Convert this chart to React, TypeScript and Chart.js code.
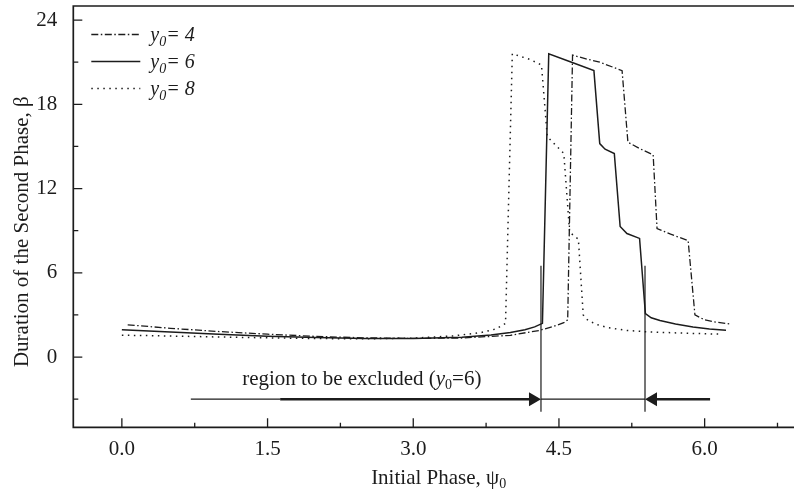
import React, { useEffect, useRef } from 'react';
import { Chart, registerables } from 'chart.js';

Chart.register(...registerables);

// ---- data ----
const psi4 = [0.06, 0.5, 1.0, 1.5, 2.0, 2.5, 3.0, 3.5, 4.0, 4.3, 4.45, 4.55, 4.59, 4.64, 4.8, 4.92, 5.15, 5.21, 5.33, 5.47, 5.51, 5.65, 5.83, 5.9, 6.0, 6.1, 6.27];
const beta4 = [2.3, 2.05, 1.82, 1.63, 1.47, 1.37, 1.33, 1.36, 1.55, 1.9, 2.2, 2.45, 2.65, 21.5, 21.2, 21.0, 20.4, 15.3, 14.85, 14.4, 9.15, 8.75, 8.3, 3.0, 2.65, 2.5, 2.35];

const psi6 = [0, 0.5, 1.0, 1.5, 2.0, 2.5, 3.0, 3.5, 3.8, 4.0, 4.15, 4.25, 4.33, 4.395, 4.63, 4.86, 4.92, 4.975, 5.07, 5.13, 5.2, 5.33, 5.39, 5.45, 5.54, 5.7, 5.88, 6.05, 6.22];
const beta6 = [1.95, 1.78, 1.62, 1.49, 1.39, 1.33, 1.33, 1.42, 1.58, 1.75, 1.95, 2.15, 2.4, 21.6, 21.0, 20.4, 15.2, 14.8, 14.5, 9.3, 8.8, 8.45, 3.1, 2.8, 2.6, 2.35, 2.15, 2.0, 1.91];

const psi8 = [0, 0.5, 1.0, 1.5, 2.0, 2.5, 3.0, 3.4, 3.7, 3.85, 3.95, 4.02, 4.2, 4.32, 4.38, 4.45, 4.55, 4.61, 4.66, 4.7, 4.75, 4.8, 4.9, 5.0, 5.2, 5.4, 5.8, 6.18];
const beta8 = [1.56, 1.5, 1.43, 1.37, 1.32, 1.3, 1.35, 1.5, 1.75, 2.0, 2.4, 21.6, 21.2, 20.8, 15.7, 15.2, 14.5, 8.9, 8.6, 8.4, 3.0, 2.6, 2.3, 2.1, 1.9, 1.8, 1.7, 1.63];

const seriesNames = ['4', '6', '8'];

const xTickValues = [0, 0.75, 1.5, 2.25, 3, 3.75, 4.5, 5.25, 6, 6.75];
const xMajorValues = [0, 1.5, 3, 4.5, 6];
const xMajorLabels = ['0.0', '1.5', '3.0', '4.5', '6.0'];
const yTickValues = [-3, 0, 3, 6, 9, 12, 15, 18, 21, 24];
const yMajorValues = [0, 6, 12, 18, 24];
const yMajorLabels = ['0', '6', '12', '18', '24'];

// excluded region annotation (data coordinates)
const excludeFrom = 4.315;
const excludeTo = 5.386;
const markerTop = 6.5;
const markerBottom = -3.9;
const arrowLevel = -3;
const arrowTailLeft = 0.71;
const arrowThickFrom = 1.63;
const arrowTailRight = 6.056;
const noteX = 2.47;
const noteY = -2.0;

const xTitle = 'Initial Phase, ψ';
const yTitle = 'Duration of the Second Phase, β';
const noteText = 'region to be excluded (';

// ---- styles ----
const INK = '#1c1c1c';
const SERIF = '"Liberation Serif", "Times New Roman", Times, serif';
const dashDot = [7, 2.5, 1.5, 2.5];
const dotted = [1.5, 4.5];

const pts = (xs: number[], ys: number[]) => xs.map((x, i) => ({ x, y: ys[i] }));
const near = (a: number, b: number) => Math.abs(a - b) < 1e-9;

type Part = { t: string; font: string; dy?: number };

function drawParts(ctx: CanvasRenderingContext2D, parts: Part[], x: number, y: number, align: 'left' | 'center') {
  ctx.textAlign = 'left';
  ctx.textBaseline = 'alphabetic';
  let total = 0;
  for (const p of parts) { ctx.font = p.font; total += ctx.measureText(p.t).width; }
  let cx = align === 'center' ? x - total / 2 : x;
  for (const p of parts) {
    ctx.font = p.font;
    ctx.fillText(p.t, cx, y + (p.dy || 0));
    cx += ctx.measureText(p.t).width;
  }
}

const decor = {
  id: 'decor',
  afterDraw(chart: any) {
    const { ctx, chartArea: a, scales } = chart;
    const xs = scales.x;
    const ys = scales.y;
    ctx.save();
    ctx.strokeStyle = INK;
    ctx.fillStyle = INK;
    ctx.setLineDash([]);

    // frame: top, left, bottom
    ctx.lineWidth = 1.7;
    ctx.beginPath();
    ctx.moveTo(a.right + 2, a.top);
    ctx.lineTo(a.left, a.top);
    ctx.lineTo(a.left, a.bottom);
    ctx.lineTo(a.right + 2, a.bottom);
    ctx.stroke();

    // inward ticks
    ctx.lineWidth = 1.3;
    ctx.beginPath();
    for (const v of xTickValues) {
      const px = xs.getPixelForValue(v);
      const len = xMajorValues.some((m) => near(m, v)) ? 9 : 4.5;
      ctx.moveTo(px, a.bottom);
      ctx.lineTo(px, a.bottom - len);
    }
    for (const v of yTickValues) {
      const py = ys.getPixelForValue(v);
      const len = yMajorValues.some((m) => near(m, v)) ? 9 : 5;
      ctx.moveTo(a.left, py);
      ctx.lineTo(a.left + len, py);
    }
    ctx.stroke();

    // excluded region markers
    const xL = xs.getPixelForValue(excludeFrom);
    const xR = xs.getPixelForValue(excludeTo);
    const yT = ys.getPixelForValue(markerTop);
    const yB = ys.getPixelForValue(markerBottom);
    const yA = ys.getPixelForValue(arrowLevel);
    ctx.lineWidth = 1.2;
    ctx.beginPath();
    ctx.moveTo(xL, yT); ctx.lineTo(xL, yB);
    ctx.moveTo(xR, yT); ctx.lineTo(xR, yB);
    ctx.moveTo(xs.getPixelForValue(arrowTailLeft), yA); ctx.lineTo(xs.getPixelForValue(arrowThickFrom), yA);
    ctx.moveTo(xL, yA); ctx.lineTo(xR, yA);
    ctx.stroke();
    ctx.lineWidth = 2.4;
    ctx.beginPath();
    ctx.moveTo(xs.getPixelForValue(arrowThickFrom), yA); ctx.lineTo(xL - 10, yA);
    ctx.moveTo(xR + 10, yA); ctx.lineTo(xs.getPixelForValue(arrowTailRight), yA);
    ctx.stroke();
    ctx.beginPath();
    ctx.moveTo(xL, yA); ctx.lineTo(xL - 12, yA - 7); ctx.lineTo(xL - 12, yA + 7); ctx.closePath();
    ctx.moveTo(xR, yA); ctx.lineTo(xR + 12, yA - 7); ctx.lineTo(xR + 12, yA + 7); ctx.closePath();
    ctx.fill();

    // note text
    const f21 = `21px ${SERIF}`;
    const i21 = `italic 21px ${SERIF}`;
    const f14 = `14px ${SERIF}`;
    drawParts(ctx, [
      { t: noteText, font: f21 },
      { t: 'y', font: i21 },
      { t: '0', font: f14, dy: 4 },
      { t: '=6)', font: f21 },
    ], xs.getPixelForValue(noteX), ys.getPixelForValue(noteY), 'center');

    // legend
    const rows = [34.5, 61.5, 88.5];
    chart.data.datasets.forEach((ds: any, i: number) => {
      const ly = a.top + rows[i] - 6;
      ctx.save();
      ctx.lineWidth = ds.borderWidth;
      ctx.setLineDash(ds.borderDash || []);
      ctx.beginPath();
      ctx.moveTo(a.left + 18, ly);
      ctx.lineTo(a.left + 67, ly);
      ctx.stroke();
      ctx.restore();
      drawParts(ctx, [
        { t: 'y', font: `italic 20px ${SERIF}` },
        { t: '0', font: `italic 14px ${SERIF}`, dy: 5 },
        { t: '= ' + seriesNames[i], font: `italic 20px ${SERIF}` },
      ], a.left + 77, ly + 6.5, 'left');
    });

    // axis titles
    drawParts(ctx, [
      { t: xTitle, font: f21 },
      { t: '0', font: f14, dy: 4 },
    ], (a.left + a.right) / 2 + 5, 484, 'center');

    ctx.save();
    ctx.translate(28, (a.top + a.bottom) / 2 + 15);
    ctx.rotate(-Math.PI / 2);
    ctx.font = f21;
    ctx.textAlign = 'center';
    ctx.textBaseline = 'alphabetic';
    ctx.fillText(yTitle, 0, 0);
    ctx.restore();

    ctx.restore();
  },
};

export default function App() {
  const ref = useRef<HTMLCanvasElement | null>(null);

  useEffect(() => {
    if (!ref.current) return;
    const common = { pointRadius: 0, tension: 0, fill: false, borderColor: INK };
    const chart = new Chart(ref.current, {
      type: 'line',
      data: {
        datasets: [
          { ...common, label: 'y0 = 4', data: pts(psi4, beta4), borderWidth: 1.3, borderDash: dashDot },
          { ...common, label: 'y0 = 6', data: pts(psi6, beta6), borderWidth: 1.5 },
          { ...common, label: 'y0 = 8', data: pts(psi8, beta8), borderWidth: 1.5, borderDash: dotted },
        ],
      },
      options: {
        responsive: false,
        animation: false,
        events: [],
        layout: { padding: { top: 6, right: 0, left: 0, bottom: 0 } },
        plugins: { legend: { display: false }, tooltip: { enabled: false } },
        scales: {
          x: {
            type: 'linear',
            min: -0.5,
            max: 6.92,
            grid: { display: false },
            border: { display: false },
            afterBuildTicks: (s: any) => { s.ticks = xTickValues.map((v) => ({ value: v })); },
            afterFit: (s: any) => { s.height = 64.7; s.paddingLeft = 0; s.paddingRight = 0; },
            ticks: {
              autoSkip: false,
              maxRotation: 0,
              padding: 2,
              color: INK,
              font: { family: SERIF, size: 21 },
              callback: (v: any) => {
                const i = xMajorValues.findIndex((m) => near(m, Number(v)));
                return i >= 0 ? xMajorLabels[i] : '';
              },
            },
          },
          y: {
            type: 'linear',
            min: -5,
            max: 25,
            grid: { display: false },
            border: { display: false },
            afterBuildTicks: (s: any) => { s.ticks = yTickValues.map((v) => ({ value: v })); },
            afterFit: (s: any) => { s.width = 73.3; s.paddingTop = 0; s.paddingBottom = 0; },
            ticks: {
              autoSkip: false,
              padding: 8,
              color: INK,
              font: { family: SERIF, size: 21 },
              callback: (v: any) => {
                const i = yMajorValues.findIndex((m) => near(m, Number(v)));
                return i >= 0 ? yMajorLabels[i] : '';
              },
            },
          },
        },
      },
      plugins: [decor],
    } as any);
    return () => chart.destroy();
  }, []);

  return (
    <div style={{ position: 'fixed', left: 0, top: 0, width: 794, height: 492, overflow: 'hidden', background: '#fff' }}>
      <canvas ref={ref} width={794} height={492} style={{ display: 'block' }} />
    </div>
  );
}
